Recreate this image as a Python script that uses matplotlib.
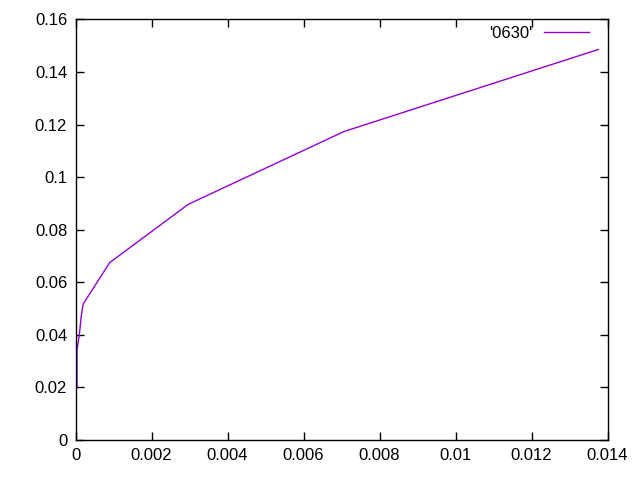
import matplotlib

matplotlib.use("Agg")

import matplotlib.pyplot as plt
from matplotlib.ticker import FuncFormatter

X = [0.00004, 0.00004, 0.0001, 0.00015, 0.0002, 0.0009, 0.00297, 0.00707, 0.01376]
Y = [0.0198, 0.0342, 0.0400, 0.0470, 0.0517, 0.0675, 0.0897, 0.1174, 0.1486]
X_TICKS = [0, 0.002, 0.004, 0.006, 0.008, 0.01, 0.012, 0.014]
Y_TICKS = [0, 0.02, 0.04, 0.06, 0.08, 0.1, 0.12, 0.14, 0.16]
LABEL = "'0630'"

plt.rcParams["font.family"] = ["Liberation Sans", "DejaVu Sans"]

fig = plt.figure(figsize=(6.4, 4.8), dpi=100)
ax = fig.add_axes([75.5 / 640, 40.0 / 480, 532.0 / 640, 420.5 / 480])
ax.plot(X, Y, color="#9400D3", linewidth=1.0, label=LABEL)
ax.set_xlim(0, 0.014)
ax.set_ylim(0, 0.16)
ax.set_xticks(X_TICKS)
ax.set_yticks(Y_TICKS)
fmt = FuncFormatter(lambda v, _: f"{v:g}")
ax.xaxis.set_major_formatter(fmt)
ax.yaxis.set_major_formatter(fmt)
ax.tick_params(direction="in", top=True, right=True, length=6, width=1.0,
               labelsize=12, pad=6)
for spine in ax.spines.values():
    spine.set_linewidth(1.0)
ax.legend(loc="upper right", bbox_to_anchor=(1 - 12 / 532, 1.0),
          frameon=False, markerfirst=False, fontsize=12, borderaxespad=0,
          handlelength=2.7, handletextpad=0.7)

fig.savefig("out.png", dpi=100)
